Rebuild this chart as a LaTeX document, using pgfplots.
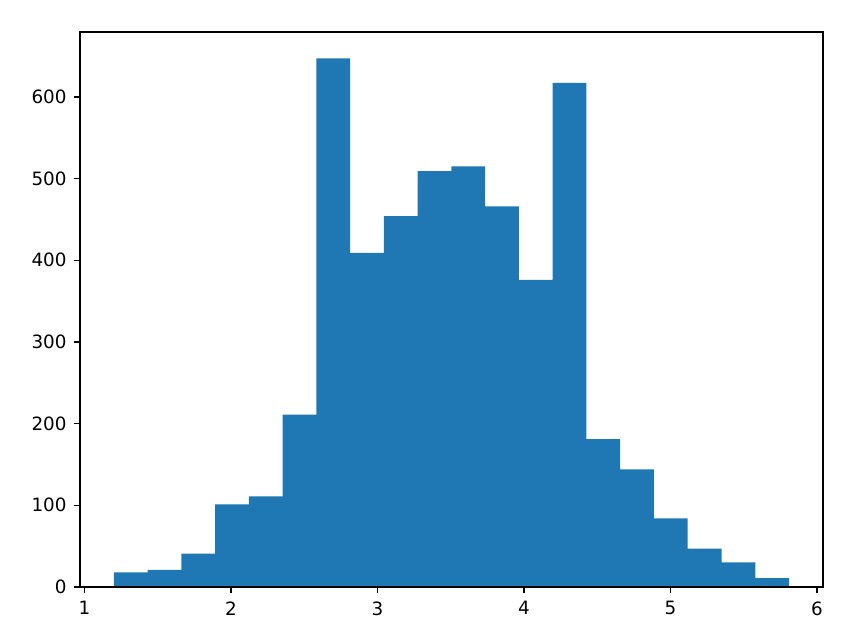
\documentclass[border=0pt]{standalone}
\usepackage{fontspec}
\setmainfont{DejaVu Sans}
\usepackage{pgfplots}
\pgfplotsset{compat=1.18}
\definecolor{mplblue}{RGB}{31,119,180}
\begin{document}
\begin{tikzpicture}
\path[use as bounding box] (-40pt,-20pt) rectangle (382pt,293.5pt);
\begin{axis}[
  at={(0,0)}, anchor=south west,
  scale only axis, width=371.5pt, height=277.5pt,
  xmin=0.9695, xmax=6.042, ymin=0, ymax=679.4,
  xtick={1,2,3,4,5,6}, ytick={0,100,200,300,400,500,600},
  tick align=outside, tick pos=left,
  major tick length=3.2pt,
  every tick/.style={line width=0.73pt, black},
  axis line style={line width=0.73pt, black},
  tick label style={font=\fontsize{9.17}{11}\selectfont},
  /pgf/number format/assume math mode=true,
  xticklabel style={yshift=-0.5pt},
  scaled y ticks=false,
  axis on top,
]
\addplot[ybar interval, fill=mplblue, draw=none] coordinates {
(1.2000,18) (1.4305,21) (1.6610,41) (1.8915,101) (2.1220,111)
(2.3525,211) (2.5830,647) (2.8135,409) (3.0440,454) (3.2745,509)
(3.5050,515) (3.7355,466) (3.9660,376) (4.1965,617) (4.4270,181)
(4.6575,144) (4.8880,84) (5.1185,47) (5.3490,30) (5.5795,11)
(5.8100,11)
};
\end{axis}
\end{tikzpicture}
\end{document}
